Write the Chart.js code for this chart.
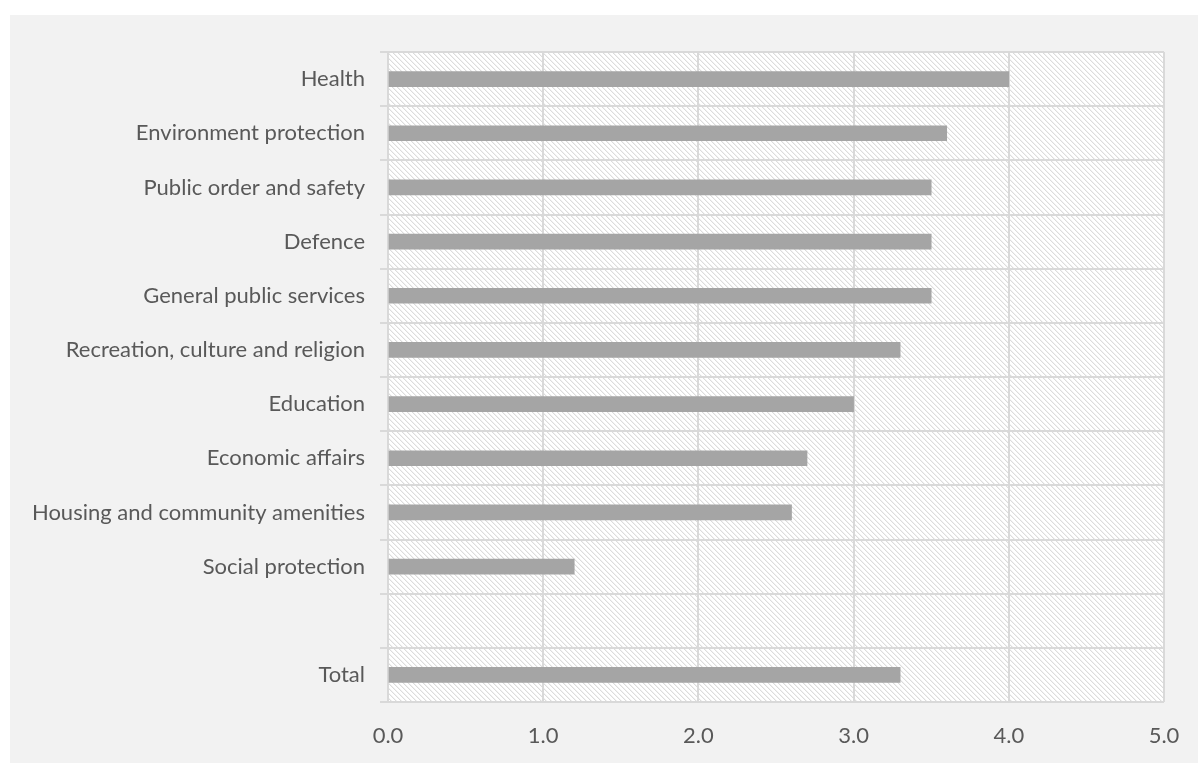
<!DOCTYPE html>
<html>
<head>
<meta charset="utf-8">
<script src="https://cdn.jsdelivr.net/npm/chart.js@4/dist/chart.umd.min.js"></script>
<style>
  html, body { margin: 0; padding: 0; background: #ffffff; }
  #wrap { position: relative; width: 1198px; height: 763px; }
</style>
</head>
<body>
<div id="wrap"><canvas id="c" width="1198" height="763"></canvas></div>
<script>
// Spending categories (top to bottom); the empty entry leaves a gap before the total
const categories = [
  'Health',
  'Environment protection',
  'Public order and safety',
  'Defence',
  'General public services',
  'Recreation, culture and religion',
  'Education',
  'Economic affairs',
  'Housing and community amenities',
  'Social protection',
  '',
  'Total'
];
const values = [4.0, 3.6, 3.5, 3.5, 3.5, 3.3, 3.0, 2.7, 2.6, 1.2, null, 3.3];
const xTicks = [0, 1, 2, 3, 4, 5];

// Light downward-diagonal hatch for the plot area
function makeHatch() {
  const n = 5;
  const t = document.createElement('canvas');
  t.width = n; t.height = n;
  const g = t.getContext('2d');
  g.fillStyle = '#ffffff';
  g.fillRect(0, 0, n, n);
  g.fillStyle = '#dcdcdc';
  for (let i = 0; i < n; i++) g.fillRect(i, i, 1, 1);
  g.fillStyle = '#f2f2f2';
  for (let i = 0; i < n; i++) g.fillRect((i + 1) % n, i, 1, 1);
  return t;
}

const backdrop = {
  id: 'backdrop',
  beforeDraw(chart) {
    const ctx = chart.ctx;
    const a = chart.chartArea;
    ctx.save();
    ctx.fillStyle = '#f2f2f2';
    ctx.fillRect(10, 15, chart.width - 10, chart.height - 15);
    ctx.fillStyle = ctx.createPattern(makeHatch(), 'repeat');
    ctx.fillRect(a.left, a.top, a.right - a.left, a.bottom - a.top);
    ctx.restore();
  }
};

const fontFamily = 'Lato, "Open Sans", sans-serif';

new Chart(document.getElementById('c'), {
  type: 'bar',
  data: {
    labels: categories,
    datasets: [{
      data: values,
      backgroundColor: '#a5a5a5',
      borderWidth: 0,
      barThickness: 15
    }]
  },
  options: {
    indexAxis: 'y',
    responsive: false,
    animation: false,
    devicePixelRatio: 1,
    layout: { padding: { top: 52, right: 34, left: 0, bottom: 0 } },
    plugins: { legend: { display: false }, tooltip: { enabled: false } },
    scales: {
      x: {
        min: 0,
        max: 5,
        afterBuildTicks(s) { s.ticks = xTicks.map(v => ({ value: v })); },
        afterFit(s) { s.height = 61; s.paddingLeft = 0; s.paddingRight = 0; },
        grid: { color: '#d9d9d9', lineWidth: 2, drawTicks: false },
        border: { display: false },
        ticks: {
          padding: 21,
          color: '#595959',
          font: { family: fontFamily, size: 22 },
          callback: v => Number(v).toFixed(1)
        }
      },
      y: {
        afterFit(s) { s.width = 388; s.paddingTop = 0; s.paddingBottom = 0; },
        grid: { color: '#d9d9d9', lineWidth: 2, offset: true, tickLength: 8 },
        border: { display: false },
        ticks: {
          padding: 15,
          color: '#595959',
          font: { family: fontFamily, size: 22 }
        }
      }
    }
  },
  plugins: [backdrop]
});
</script>
</body>
</html>
